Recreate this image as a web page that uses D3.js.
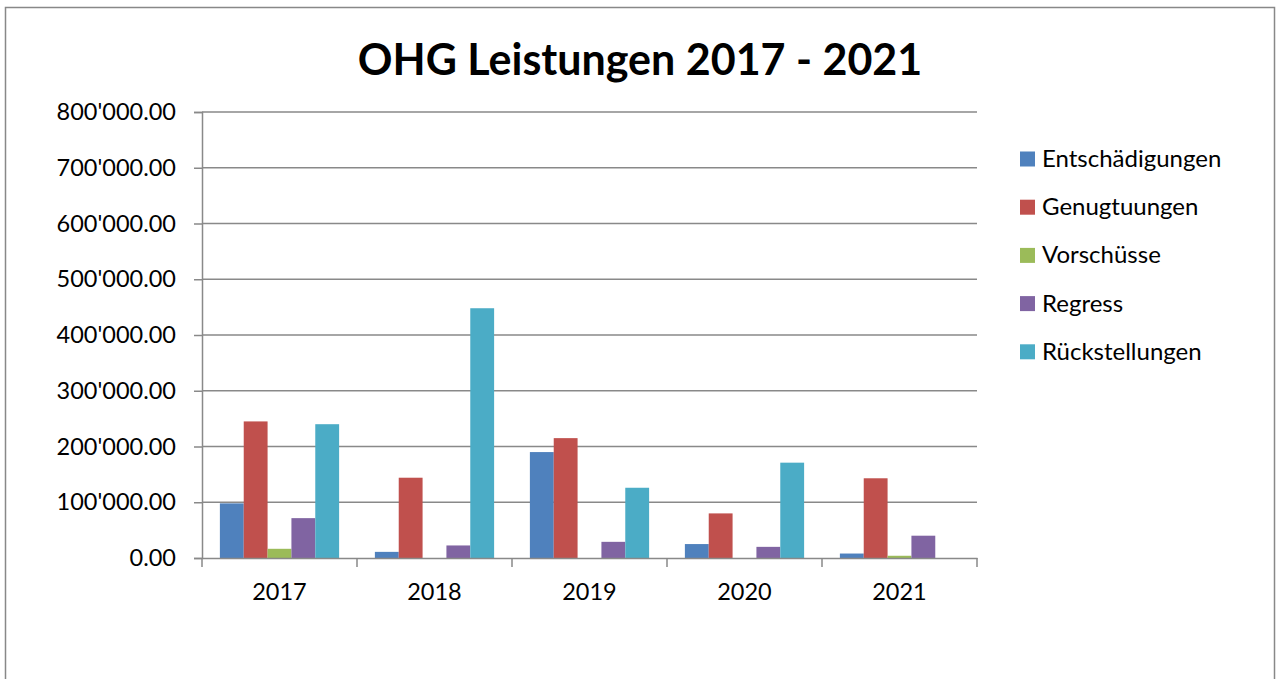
<!DOCTYPE html>
<html>
<head>
<meta charset="utf-8">
<script src="https://cdn.jsdelivr.net/npm/d3@7"></script>
<style>
  body { margin: 0; background: #fff; }
  text { font-family: Lato, "Noto Sans", sans-serif; fill: #000; }
</style>
</head>
<body>
<script>
// Chart data
const years = ["2017", "2018", "2019", "2020", "2021"];
const seriesNames = ["Entschädigungen", "Genugtuungen", "Vorschüsse", "Regress", "Rückstellungen"];
const entschaedigungen = [98000, 11000, 190000, 25000, 8000];
const genugtuungen = [245000, 144000, 215000, 80000, 143000];
const vorschuesse = [16500, 0, 0, 0, 4000];
const regress = [71500, 22500, 29000, 20000, 40000];
const rueckstellungen = [240000, 448000, 126000, 171000, 0];
const yTicks = [0, 100000, 200000, 300000, 400000, 500000, 600000, 700000, 800000];
const colors = ["#4F81BD", "#C0504D", "#9BBB59", "#8064A2", "#4BACC6"];

const seriesValues = [entschaedigungen, genugtuungen, vorschuesse, regress, rueckstellungen];

// Layout
const W = 1276, H = 679;
const plot = { left: 202, right: 977, top: 112, bottom: 558 };

const svg = d3.select("body").append("svg")
    .attr("width", W)
    .attr("height", H);

// Outer chart frame (bottom edge falls outside the picture)
svg.append("rect")
    .attr("x", 5.5).attr("y", 7.5)
    .attr("width", 1269).attr("height", 700)
    .attr("fill", "#fff")
    .attr("stroke", "#888")
    .attr("stroke-width", 1.5);

// Title
svg.append("text")
    .attr("x", 640)
    .attr("y", 75)
    .attr("text-anchor", "middle")
    .style("font-size", "43px")
    .style("font-weight", "bold")
    .text("OHG Leistungen 2017 - 2021");

// Scales
const x0 = d3.scaleBand()
    .domain(years)
    .range([plot.left, plot.right])
    .padding(0);

// Excel-like gap width of 150%: half a bar gap on each side of the group
const x1 = d3.scaleBand()
    .domain(seriesNames)
    .range([0, x0.bandwidth()])
    .paddingInner(0)
    .paddingOuter(0.75);

const y = d3.scaleLinear()
    .domain([0, 800000])
    .range([plot.bottom, plot.top]);

// Gridlines
svg.append("g")
    .selectAll("line")
    .data(yTicks.filter(d => d > 0))
    .join("line")
    .attr("x1", plot.left).attr("x2", plot.right)
    .attr("y1", d => y(d)).attr("y2", d => y(d))
    .attr("stroke", "#898989")
    .attr("stroke-width", 1.5);

// Bars
const groups = svg.append("g")
    .selectAll("g")
    .data(years)
    .join("g")
    .attr("transform", d => `translate(${x0(d)},0)`);

groups.selectAll("rect")
    .data((d, i) => seriesNames.map((s, j) => ({ s, j, v: seriesValues[j][i] })))
    .join("rect")
    .attr("x", d => x1(d.s))
    .attr("width", x1.bandwidth())
    .attr("y", d => y(d.v))
    .attr("height", d => y(0) - y(d.v))
    .attr("fill", d => colors[d.j]);

// Y axis
const fmt = v => v === 0 ? "0.00" : `${Math.floor(v / 1000)}'000.00`;
const yAxis = svg.append("g")
    .attr("transform", `translate(${plot.left},0)`)
    .call(d3.axisLeft(y).tickValues(yTicks).tickFormat(fmt).tickSize(8).tickPadding(18));
yAxis.select(".domain").attr("stroke", "#898989").attr("stroke-width", 1.5);
yAxis.selectAll(".tick line").attr("stroke", "#898989").attr("stroke-width", 1.5);
yAxis.selectAll(".tick text")
    .style("font-size", "23.5px")
    .style("font-family", "Lato, sans-serif")
    .attr("fill", "#000");

// X axis
const xAxis = svg.append("g")
    .attr("transform", `translate(0,${plot.bottom})`)
    .call(d3.axisBottom(x0).tickSize(0).tickPadding(25));
xAxis.select(".domain").attr("stroke", "#898989").attr("stroke-width", 1.5);
xAxis.selectAll(".tick text")
    .style("font-size", "23.5px")
    .style("font-family", "Lato, sans-serif")
    .attr("fill", "#000");

// Category boundary ticks
svg.append("g")
    .selectAll("line")
    .data(years.map(d => x0(d)).concat([plot.right]))
    .join("line")
    .attr("x1", d => d).attr("x2", d => d)
    .attr("y1", plot.bottom).attr("y2", plot.bottom + 9)
    .attr("stroke", "#898989")
    .attr("stroke-width", 1.5);

// Legend
const legend = svg.append("g")
    .attr("transform", "translate(1020,159)");

const legendItems = legend.selectAll("g")
    .data(seriesNames)
    .join("g")
    .attr("transform", (d, i) => `translate(0,${i * 48.2})`);

legendItems.append("rect")
    .attr("x", 0).attr("y", -7.5)
    .attr("width", 15).attr("height", 15)
    .attr("fill", (d, i) => colors[i]);

legendItems.append("text")
    .attr("x", 22)
    .attr("y", 8)
    .style("font-size", "24px")
    .text(d => d);
</script>
</body>
</html>
